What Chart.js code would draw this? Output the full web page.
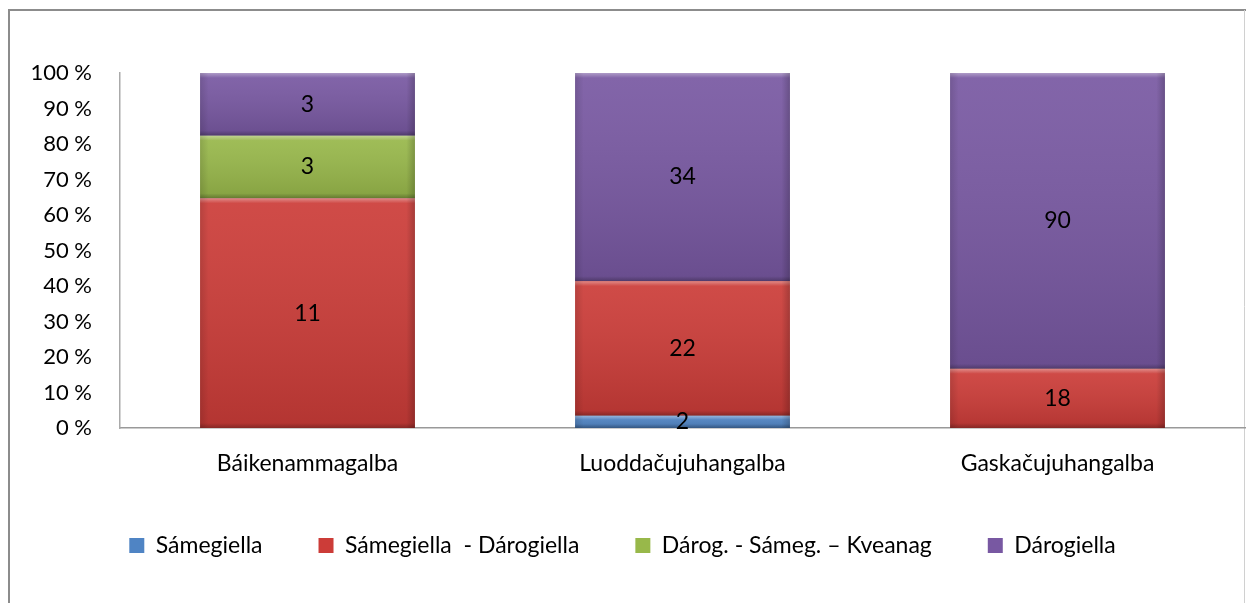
<!DOCTYPE html>
<html>
<head>
<meta charset="utf-8">
<script src="https://cdn.jsdelivr.net/npm/chart.js@4/dist/chart.umd.min.js"></script>
<style>
  html, body { margin: 0; padding: 0; background: #fff; }
  #wrap { position: relative; width: 1246px; height: 603px; }
</style>
</head>
<body>
<div id="wrap"><canvas id="barChart" width="1246" height="603"></canvas></div>
<script>
const categories = ['Báikenammagalba', 'Luoddačujuhangalba', 'Gaskačujuhangalba'];
const seriesNames = ['Sámegiella', 'Sámegiella  - Dárogiella', 'Dárog. - Sámeg. – Kveanag', 'Dárogiella'];
const samegiella = [0, 2, 0];
const samegiellaDarogiella = [11, 22, 18];
const darogSamegKveanag = [3, 0, 0];
const darogiella = [3, 34, 90];
const yTicks = [0, 10, 20, 30, 40, 50, 60, 70, 80, 90, 100];
const colors = ['#4f84c4', '#cc3c38', '#98b84a', '#7858a2'];
const fontFamily = 'Lato, "Open Sans", sans-serif';
const fontSize = 23;

document.addEventListener('DOMContentLoaded', function(){
    const counts = [samegiella, samegiellaDarogiella, darogSamegKveanag, darogiella];
    const totals = categories.map((c, i) => counts.reduce((s, arr) => s + arr[i], 0));
    const canvas = document.getElementById('barChart').getContext('2d');
    createStackedPercentChart(canvas, counts, totals);
});

// frame around the whole chart
const framePlugin = {
    id: 'frame',
    beforeDraw(chart) {
        const ctx = chart.ctx;
        ctx.save();
        ctx.strokeStyle = '#8c8c8c';
        ctx.lineWidth = 2;
        ctx.beginPath();
        ctx.moveTo(9, 603);
        ctx.lineTo(9, 10);
        ctx.lineTo(1246, 10);
        ctx.stroke();
        ctx.strokeStyle = '#d0d0d0';
        ctx.lineWidth = 1;
        ctx.beginPath();
        ctx.moveTo(1244.5, 10);
        ctx.lineTo(1244.5, 603);
        ctx.stroke();
        ctx.restore();
    }
};

// light bevel on each segment + count labels in the middle
const segmentPlugin = {
    id: 'segments',
    afterDatasetsDraw(chart) {
        const ctx = chart.ctx;
        ctx.save();
        chart.data.datasets.forEach((ds, di) => {
            const meta = chart.getDatasetMeta(di);
            meta.data.forEach((bar, i) => {
                if (!ds.counts[i]) return;
                const left = bar.x - bar.width / 2;
                const top = Math.min(bar.y, bar.base);
                const h = Math.abs(bar.base - bar.y);
                const b = Math.min(5, h / 3);
                let g = ctx.createLinearGradient(0, top, 0, top + h);
                g.addColorStop(0, 'rgba(255,255,255,0.08)');
                g.addColorStop(1, 'rgba(0,0,0,0.12)');
                ctx.fillStyle = g;
                ctx.fillRect(left, top, bar.width, h);
                g = ctx.createLinearGradient(0, top, 0, top + b);
                g.addColorStop(0, 'rgba(255,255,255,0.35)');
                g.addColorStop(1, 'rgba(255,255,255,0)');
                ctx.fillStyle = g;
                ctx.fillRect(left, top, bar.width, b);
                g = ctx.createLinearGradient(0, top + h - b, 0, top + h);
                g.addColorStop(0, 'rgba(0,0,0,0)');
                g.addColorStop(1, 'rgba(0,0,0,0.25)');
                ctx.fillStyle = g;
                ctx.fillRect(left, top + h - b, bar.width, b);
                g = ctx.createLinearGradient(left, 0, left + bar.width, 0);
                g.addColorStop(0, 'rgba(0,0,0,0.12)');
                g.addColorStop(0.04, 'rgba(0,0,0,0)');
                g.addColorStop(0.96, 'rgba(0,0,0,0)');
                g.addColorStop(1, 'rgba(0,0,0,0.2)');
                ctx.fillStyle = g;
                ctx.fillRect(left, top, bar.width, h);
            });
        });
        ctx.fillStyle = '#000';
        ctx.font = fontSize + 'px ' + fontFamily;
        ctx.textAlign = 'center';
        ctx.textBaseline = 'middle';
        chart.data.datasets.forEach((ds, di) => {
            const meta = chart.getDatasetMeta(di);
            meta.data.forEach((bar, i) => {
                if (!ds.counts[i]) return;
                ctx.fillText(String(ds.counts[i]), bar.x, (bar.y + bar.base) / 2);
            });
        });
        ctx.restore();
    }
};

function createStackedPercentChart(canvas, counts, totals) {
    const datasets = seriesNames.map((name, si) => ({
        label: name,
        counts: counts[si],
        data: counts[si].map((v, i) => v / totals[i] * 100),
        backgroundColor: colors[si],
        borderWidth: 0,
        categoryPercentage: 1,
        barPercentage: 0.573,
    }));
    new Chart(canvas, {
        type: 'bar',
        data: {
            labels: categories,
            datasets: datasets
        },
        options: {
            responsive: false,
            animation: false,
            layout: {
                padding: { top: 73, right: 1, left: 0, bottom: 36 }
            },
            scales: {
                x: {
                    stacked: true,
                    grid: { display: false },
                    border: { display: true, color: '#999', width: 1.5 },
                    ticks: {
                        color: '#000',
                        padding: 14,
                        font: { family: fontFamily, size: fontSize }
                    },
                    afterFit: function(scale) { scale.height = 50; }
                },
                y: {
                    stacked: true,
                    min: 0,
                    max: 100,
                    grid: { display: false },
                    border: { display: true, color: '#aaa', width: 1.5 },
                    afterBuildTicks: function(scale) {
                        scale.ticks = yTicks.map(v => ({ value: v }));
                    },
                    ticks: {
                        color: '#000',
                        padding: 20,
                        font: { family: fontFamily, size: 22 },
                        callback: function(value) { return value + ' %'; }
                    },
                    afterFit: function(scale) { scale.width = 120; }
                }
            },
            plugins: {
                legend: {
                    position: 'bottom',
                    labels: {
                        color: '#000',
                        boxWidth: 15,
                        boxHeight: 15,
                        padding: 56,
                        font: { family: fontFamily, size: fontSize }
                    }
                },
                tooltip: { enabled: false }
            }
        },
        plugins: [framePlugin, segmentPlugin]
    });
}
</script>
</body>
</html>
